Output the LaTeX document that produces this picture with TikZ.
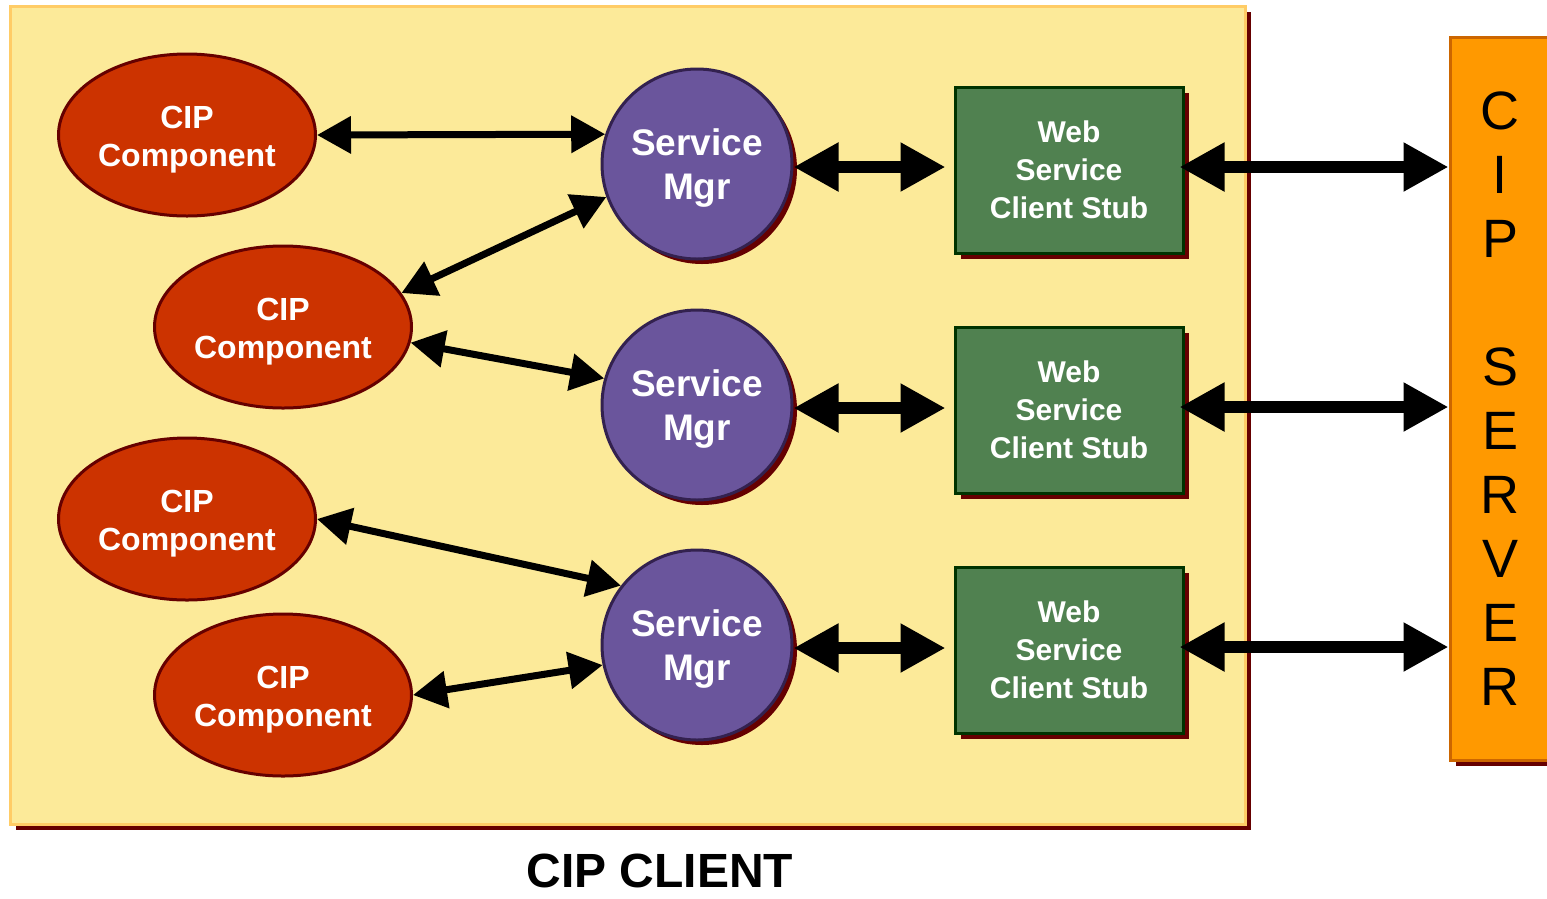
\documentclass[tikz,border=0pt]{standalone}
\usepackage{fontspec}
\setmainfont{Liberation Sans}
\usetikzlibrary{arrows.meta,shapes.geometric,shadows}
\definecolor{clientfill}{HTML}{FCEA99}
\definecolor{clientborder}{HTML}{FFCC66}
\definecolor{shadowred}{HTML}{660000}
\definecolor{compfill}{HTML}{CC3300}
\definecolor{compborder}{HTML}{660000}
\definecolor{smfill}{HTML}{6A559C}
\definecolor{smborder}{HTML}{33214F}
\definecolor{webfill}{HTML}{508150}
\definecolor{webborder}{HTML}{003300}
\definecolor{srvfill}{HTML}{FF9900}
\definecolor{srvborder}{HTML}{CC6600}
\newcommand{\toplift}[1]{\rule{0pt}{#1}}
\tikzset{
  shadowed/.style={drop shadow={shadow xshift=6pt,shadow yshift=-6pt,opacity=1,fill=shadowred}},
  clientbox/.style={draw=clientborder,fill=clientfill,line width=3pt,minimum width=1235pt,minimum height=818pt,inner sep=0pt,shadowed},
  comp/.style={ellipse,draw=compborder,fill=compfill,line width=3pt,minimum width=257pt,minimum height=162pt,inner sep=0pt,
    text=white,align=center,font=\bfseries\fontsize{32}{38}\selectfont},
  smgr/.style={circle,draw=smborder,fill=smfill,line width=3pt,minimum size=190pt,inner sep=0pt,
    text=white,align=center,font=\bfseries\fontsize{37}{44}\selectfont,drop shadow={shadow xshift=5pt,shadow yshift=-5pt,opacity=1,fill=shadowred}},
  webstub/.style={rectangle,draw=webborder,fill=webfill,line width=3pt,minimum width=228pt,minimum height=166pt,inner sep=0pt,
    text=white,align=center,font=\bfseries\fontsize{30}{38}\selectfont,shadowed},
  server/.style={rectangle,draw=srvborder,fill=srvfill,line width=3pt,minimum width=100pt,minimum height=723pt,inner sep=0pt,
    align=center,font=\fontsize{54}{64}\selectfont,shadowed},
  thinarr/.style={line width=7pt,{Triangle[length=34pt,width=36pt]}-{Triangle[length=34pt,width=36pt]}},
  thickarr/.style={line width=12pt,{Triangle[length=45pt,width=46pt]}-{Triangle[length=45pt,width=46pt]}},
  title/.style={font=\bfseries\fontsize{48}{58}\selectfont,inner sep=0pt}
}
\begin{document}
\begin{tikzpicture}[x=1pt,y=-1pt]
\useasboundingbox (0,0) rectangle (1547,898);
\node[clientbox] (client) at (627.5,415) {};
\node[server] (srv) at (1500,398.5) {C\\I\\P\\[64pt]S\\E\\R\\V\\E\\R};
\node[title] (ttl) at (660,871) {CIP CLIENT};

\node[comp] (c1) at (187,135) {\toplift{32pt}CIP\\Component};
\node[comp] (c2) at (283,327) {\toplift{32pt}CIP\\Component};
\node[comp] (c3) at (187,519) {\toplift{32pt}CIP\\Component};
\node[comp] (c4) at (283,695) {\toplift{32pt}CIP\\Component};

\node[smgr] (sm1) at (697,164) {\toplift{35pt}Service\\Mgr};
\node[smgr] (sm2) at (697,405) {\toplift{35pt}Service\\Mgr};
\node[smgr] (sm3) at (697,645) {\toplift{35pt}Service\\Mgr};

\node[webstub] (w1) at (1069,170) {Web\\Service\\Client Stub};
\node[webstub] (w2) at (1069,410) {Web\\Service\\Client Stub};
\node[webstub] (w3) at (1069,650) {Web\\Service\\Client Stub};

\draw[thinarr] (c1.east) -- (sm1.162);
\draw[thinarr] (c2.16) -- (sm1.200);
\draw[thinarr] (c2.353) -- (sm2.164);
\draw[thinarr] (c3.east) -- (sm3.142);
\draw[thinarr] (c4.east) -- (sm3.192);

\draw[thickarr] ([yshift=-3pt]sm1.east) -- ([yshift=-3pt,xshift=-8pt]sm1.east -| w1.west);
\draw[thickarr] ([yshift=-3pt]sm2.east) -- ([yshift=-3pt,xshift=-8pt]sm2.east -| w2.west);
\draw[thickarr] ([yshift=-3pt]sm3.east) -- ([yshift=-3pt,xshift=-8pt]sm3.east -| w3.west);

\draw[thickarr] ([xshift=-5pt,yshift=3pt]w1.east) -- ([yshift=3pt]w1.east -| srv.west);
\draw[thickarr] ([xshift=-5pt,yshift=3pt]w2.east) -- ([yshift=3pt]w2.east -| srv.west);
\draw[thickarr] ([xshift=-5pt,yshift=3pt]w3.east) -- ([yshift=3pt]w3.east -| srv.west);
\end{tikzpicture}
\end{document}
